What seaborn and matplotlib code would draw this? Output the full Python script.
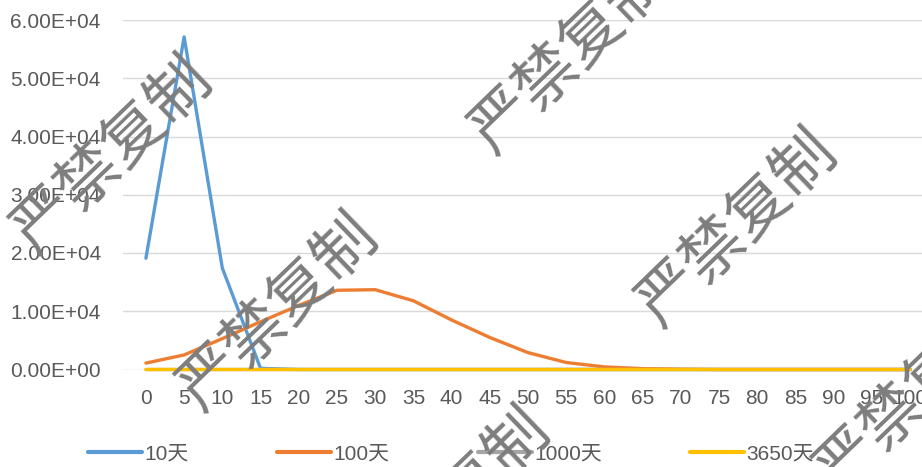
import pandas as pd
import matplotlib
matplotlib.use("Agg")
import matplotlib.pyplot as plt
import seaborn as sns
from matplotlib.ticker import FuncFormatter

# data
days = [0, 5, 10, 15, 20, 25, 30, 35, 40, 45, 50, 55, 60, 65, 70, 75, 80, 85, 90, 95, 100]
series_names = ["10天", "100天", "1000天", "3650天"]
vals_10 = [19100, 57100, 17400, 200, 0, 0, 0, 0, 0, 0, 0, 0, 0, 0, 0, 0, 0, 0, 0, 0, 0]
vals_100 = [1100, 2500, 5300, 8200, 11000, 13600, 13700, 11800, 8500, 5500, 2900,
            1200, 450, 150, 50, 0, 0, 0, 0, 0, 0]
vals_1000 = [0, 0, 0, 0, 0, 0, 0, 0, 0, 0, 0, 0, 0, 0, 0, 0, 0, 0, 0, 0, 0]
vals_3650 = [0, 0, 0, 0, 0, 0, 0, 0, 0, 0, 0, 0, 0, 0, 0, 0, 0, 0, 0, 0, 0]
watermark = "严禁复制"

colors = {"10天": "#5B9BD5", "100天": "#ED7D31", "1000天": "#A5A5A5", "3650天": "#FFC000"}

sns.set_theme(style="white")
plt.rcParams["font.family"] = ["Liberation Sans", "Noto Sans CJK SC", "DejaVu Sans"]

fig = plt.figure(figsize=(9.22, 4.67), dpi=100)
ax = fig.add_axes([123 / 922, 97.5 / 467, 810 / 922, 349.5 / 467])

# one call per series so the later ones sit on top (yellow last, as in the reference)
for i, (name, vals) in enumerate(zip(series_names, [vals_10, vals_100, vals_1000, vals_3650])):
    d = pd.DataFrame({"day": days, "value": vals})
    sns.lineplot(data=d, x="day", y="value", color=colors[name], linewidth=2.4,
                 label=name, legend=False, ax=ax)
    ln = ax.lines[-1]
    ln.set_clip_on(False)
    ln.set_zorder(3 + i)
    ln.set_snap(False)

ax.set_xlim(-3, 103)
ax.set_ylim(0, 60000)
ax.set_xticks(days)
ax.set_yticks(range(0, 60001, 10000))
ax.yaxis.set_major_formatter(FuncFormatter(lambda v, p: f"{v:.2E}"))
ax.grid(axis="y", color="#D9D9D9", linewidth=1.0)
ax.grid(axis="x", visible=False)
ax.set_axisbelow(True)
for s in ax.spines.values():
    s.set_visible(False)
ax.tick_params(axis="both", length=0, labelsize=15, labelcolor="#595959")
ax.tick_params(axis="x", pad=14)
ax.tick_params(axis="y", pad=16)
ax.set_xlabel("")
ax.set_ylabel("")

handles, labels = ax.get_legend_handles_labels()
leg = fig.legend(handles, labels, loc="center", bbox_to_anchor=(0.489, 0.028), ncol=4,
                 frameon=False, fontsize=15, handlelength=2.6, handletextpad=0.1,
                 columnspacing=4.25)
for t in leg.get_texts():
    t.set_color("#595959")
for h in leg.legend_handles:
    h.set_linewidth(3)

# diagonal watermark text
wm_centers = [(112, 155), (570, 55), (278, 312), (737, 228), (450, 506), (915, 395)]
for cx, cy in wm_centers:
    fig.text(cx / 922, 1 - cy / 467, watermark, rotation=44, ha="center", va="center",
             rotation_mode="anchor", fontsize=45, color="#7d7d7d",
             family=["Noto Sans CJK SC", "DejaVu Sans"], zorder=10)

fig.savefig("out.png", dpi=100)
